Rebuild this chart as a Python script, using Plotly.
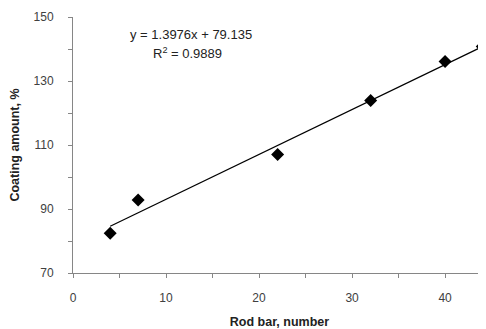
import numpy as np
import plotly.graph_objects as go

rod_bars = [4, 7, 22, 32, 40, 44]
coating = [82.4, 92.8, 107.0, 123.9, 136.1, 140.8]
eq_text = "y = 1.3976x + 79.135"
r2_text = "R<sup>2</sup> = 0.9889"

slope, intercept = np.polyfit(rod_bars, coating, 1)
line_x = [min(rod_bars), max(rod_bars)]
line_y = [slope * v + intercept for v in line_x]

font_family = "Liberation Sans"
axis_col = "#868686"
txt_col = "#404040"

fig = go.Figure()
fig.add_trace(go.Scatter(x=line_x, y=line_y, mode="lines",
                         line=dict(color="black", width=1.2), hoverinfo="skip"))
fig.add_trace(go.Scatter(x=rod_bars, y=coating, mode="markers",
                         marker=dict(symbol="diamond", size=10, color="black"),
                         cliponaxis=False))

fig.add_annotation(x=0.286, y=0.93, xref="paper", yref="paper", text=eq_text,
                   xanchor="center", yanchor="middle",
                   showarrow=False, font=dict(family=font_family, size=13, color="#222"))
fig.add_annotation(x=0.277, y=0.859, xref="paper", yref="paper", text=r2_text,
                   xanchor="center", yanchor="middle",
                   showarrow=False, font=dict(family=font_family, size=13, color="#222"))

fig.update_layout(
    width=478, height=321,
    margin=dict(l=65, r=0, t=9, b=56, autoexpand=False),
    paper_bgcolor="white", plot_bgcolor="white",
    showlegend=False,
    font=dict(family=font_family, color=txt_col),
    xaxis=dict(range=[0, 44.4], dtick=10, tick0=0, showgrid=False, zeroline=False,
               showline=True, linecolor=axis_col, linewidth=1,
               ticks="outside", ticklen=4, tickcolor=axis_col,
               minor=dict(dtick=5, ticks="outside", ticklen=4, tickcolor=axis_col),
               ticklabelstandoff=10,
               tickfont=dict(size=12, color=txt_col),
               title=dict(text="<b>Rod bar, number</b>", font=dict(size=12.5, color="#222"), standoff=12)),
    yaxis=dict(range=[70, 150], dtick=20, tick0=70, showgrid=False, zeroline=False,
               showline=True, linecolor=axis_col, linewidth=1,
               ticks="outside", ticklen=4, tickcolor=axis_col,
               minor=dict(dtick=10, ticks="outside", ticklen=4, tickcolor=axis_col),
               ticklabelstandoff=12,
               tickfont=dict(size=12, color=txt_col),
               title=dict(text="<b>Coating amount, %</b>", font=dict(size=12.5, color="#222"), standoff=12)),
)

fig.write_html("out.html")
